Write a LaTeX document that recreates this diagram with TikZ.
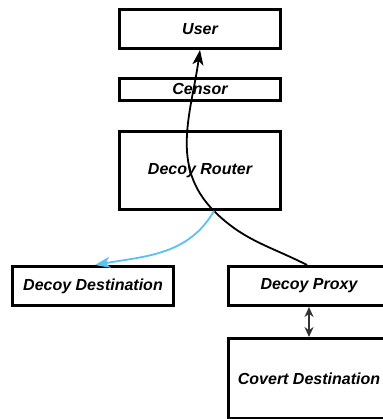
\documentclass[tikz,border=0pt]{standalone}
\usepackage{fontspec}
\setmainfont{Liberation Sans}
\usepackage{xcolor}
\usepackage{tikz}
\usetikzlibrary{positioning,arrows.meta}
\definecolor{skyflow}{RGB}{92,192,240}

\begin{document}
\begin{tikzpicture}[x=1pt,y=1pt,
  box/.style={draw, line width=3pt, minimum width=161pt, inner sep=0pt,
    font=\bfseries\itshape\fontsize{16}{19}\selectfont},
  flow/.style={line width=1.8pt, -{Stealth[length=15pt,width=11pt,inset=4pt]}},
  leak/.style={flow, draw=skyflow},
  pair/.style={line width=1.6pt, draw=black!80,
    {Stealth[length=10pt,width=9pt]}-{Stealth[length=10pt,width=9pt]}}]

  \useasboundingbox (0,0) rectangle (382,419);

  % Define nodes
  \node[box, minimum height=39pt]                         (user)   at (200,390) {User};
  \node[box, minimum height=22pt, below=27pt of user]     (censor) {Censor};
  \node[box, minimum height=78pt, below=28pt of censor]   (router) {Decoy Router};
  \node[box, minimum height=39pt, below=54pt of router, xshift=-107pt] (ddest) {Decoy Destination};
  \node[box, minimum height=39pt, below=54pt of router, xshift=109pt]  (proxy) {Decoy Proxy};
  \node[box, minimum height=80pt, below=30pt of proxy]    (covert) {Covert Destination};
  \coordinate[xshift=14pt] (fork) at (router.south);

  % Connect the nodes
  \draw[flow] ([xshift=-2pt]proxy.north) to[out=153,in=-45] (fork)
    to[out=135,in=-98] (user.south);
  \draw[leak] (fork) to[out=-120,in=10] ([xshift=2pt]ddest.north);
  \draw[pair] (proxy.south) -- (covert.north);

\end{tikzpicture}
\end{document}
